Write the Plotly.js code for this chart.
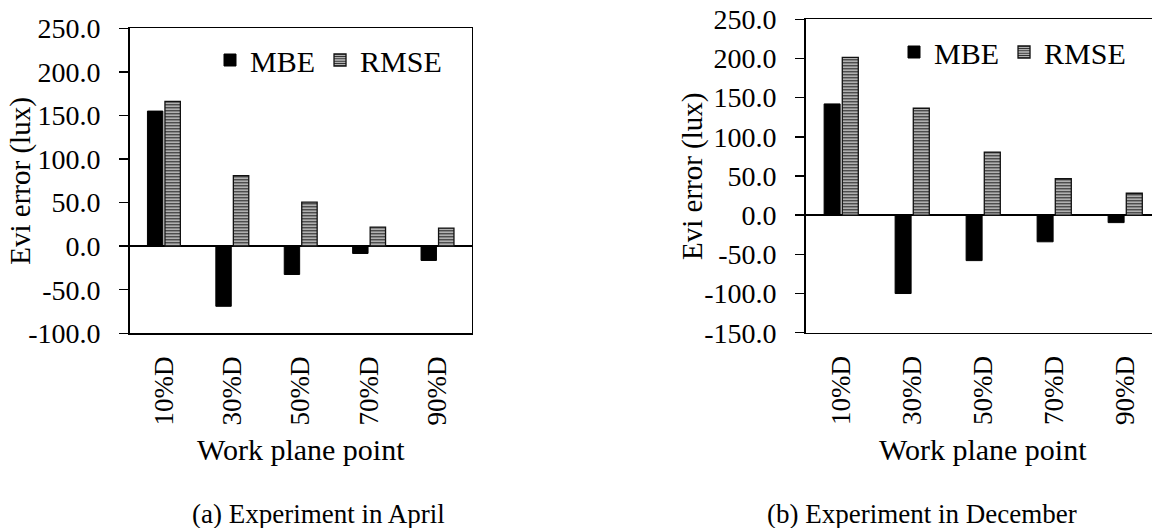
<!DOCTYPE html>
<html>
<head>
<meta charset="utf-8">
<script src="https://cdn.plot.ly/plotly-3.0.1.min.js"></script>
<style>
  html, body { margin: 0; padding: 0; overflow: hidden; background: #fff; }
  #chart { width: 1170px; height: 528px; }
</style>
</head>
<body>
<div id="chart"></div>
<script>
// ---- data ----
const categories = ['10%D', '30%D', '50%D', '70%D', '90%D'];
const aprilMBE = [155, -69, -32.5, -8.4, -16.4];
const aprilRMSE = [166, 81, 50.5, 21.8, 20.7];
const decemberMBE = [142, -100, -58, -34, -9.5];
const decemberRMSE = [201.5, 136.5, 80.5, 46.5, 28];
const aprilTicks = [-100, -50, 0, 50, 100, 150, 200, 250];
const decemberTicks = [-150, -100, -50, 0, 50, 100, 150, 200, 250];
const seriesNames = ['MBE', 'RMSE'];
const yTitle = 'Evi error (lux)';
const xTitle = 'Work plane point';
const captions = ['(a) Experiment in April', '(b) Experiment in December'];

// ---- layout constants ----
const W = 1170, H = 528;
const FONT = 'Liberation Serif';
const px = v => v / W;
const py = v => 1 - v / H;

const mbeStyle = { color: '#000000', line: { color: '#000000', width: 1 } };
const rmseStyle = {
  color: '#ffffff',
  line: { color: '#111111', width: 1.3 },
  pattern: { shape: '-', fgcolor: '#222222', bgcolor: '#f4f4f4', size: 3, solidity: 0.55 }
};

const traces = [
  { type: 'bar', name: seriesNames[0], x: categories, y: aprilMBE, marker: mbeStyle,
    xaxis: 'x', yaxis: 'y', legend: 'legend' },
  { type: 'bar', name: seriesNames[1], x: categories, y: aprilRMSE, marker: rmseStyle,
    xaxis: 'x', yaxis: 'y', legend: 'legend' },
  { type: 'bar', name: seriesNames[0], x: categories, y: decemberMBE, marker: mbeStyle,
    xaxis: 'x2', yaxis: 'y2', legend: 'legend2' },
  { type: 'bar', name: seriesNames[1], x: categories, y: decemberRMSE, marker: rmseStyle,
    xaxis: 'x2', yaxis: 'y2', legend: 'legend2' }
];

function yAxis(ticks, domain, anchor) {
  return {
    domain: domain, anchor: anchor,
    range: [ticks[0], ticks[ticks.length - 1]],
    tickmode: 'array', tickvals: ticks, ticktext: ticks.map(v => v.toFixed(1)),
    ticks: 'outside', ticklen: 9, tickwidth: 1.5, tickcolor: '#000',
    ticklabelstandoff: 13,
    showline: true, mirror: true, linecolor: '#000', linewidth: 1.5,
    showgrid: false,
    zeroline: true, zerolinecolor: '#000', zerolinewidth: 1.5,
    tickfont: { family: FONT, size: 28, color: '#000' },
    fixedrange: true
  };
}
function xAxis(domain, anchor) {
  return {
    domain: domain, anchor: anchor,
    type: 'category',
    tickangle: -90,
    ticks: '',
    ticklabelstandoff: 11,
    showline: true, mirror: true, linecolor: '#000', linewidth: 1.5,
    showgrid: false, zeroline: false,
    tickfont: { family: FONT, size: 27, color: '#000' },
    fixedrange: true
  };
}

const legendBase = {
  orientation: 'h', xanchor: 'left', yanchor: 'middle',
  font: { family: FONT, size: 30, color: '#000' },
  bgcolor: 'rgba(0,0,0,0)', borderwidth: 0, itemclick: false, itemdoubleclick: false
};

const ann = (text, x, y, size, angle) => ({
  text: text, xref: 'paper', yref: 'paper', x: px(x), y: py(y),
  xanchor: 'center', yanchor: 'middle', showarrow: false, textangle: angle || 0,
  font: { family: FONT, size: size, color: '#000' }
});

const layout = {
  width: W, height: H,
  margin: { l: 0, r: 0, t: 0, b: 0 },
  paper_bgcolor: '#fff', plot_bgcolor: '#fff',
  font: { family: FONT, color: '#000' },
  barmode: 'group', bargap: 0.488, bargroupgap: 0.12,
  showlegend: true,
  xaxis: xAxis([px(129.7), px(471.7)], 'y'),
  yaxis: yAxis(aprilTicks, [py(333.3), py(28.3)], 'x'),
  xaxis2: xAxis([px(805.7), px(1160.7)], 'y2'),
  yaxis2: yAxis(decemberTicks, [py(332.7), py(19.3)], 'x2'),
  legend: Object.assign({}, legendBase, { x: px(210), y: py(60) }),
  legend2: Object.assign({}, legendBase, { x: px(894), y: py(52) }),
  annotations: [
    ann(yTitle, 21, 180.7, 29, -90),
    ann(yTitle, 693, 176, 29, -90),
    ann(xTitle, 300.7, 449, 30),
    ann(xTitle, 983, 449, 30),
    ann(captions[0], 318.5, 514, 27),
    ann(captions[1], 921.6, 514, 27)
  ]
};

Plotly.newPlot('chart', traces, layout, { displayModeBar: false, staticPlot: true });
</script>
</body>
</html>
